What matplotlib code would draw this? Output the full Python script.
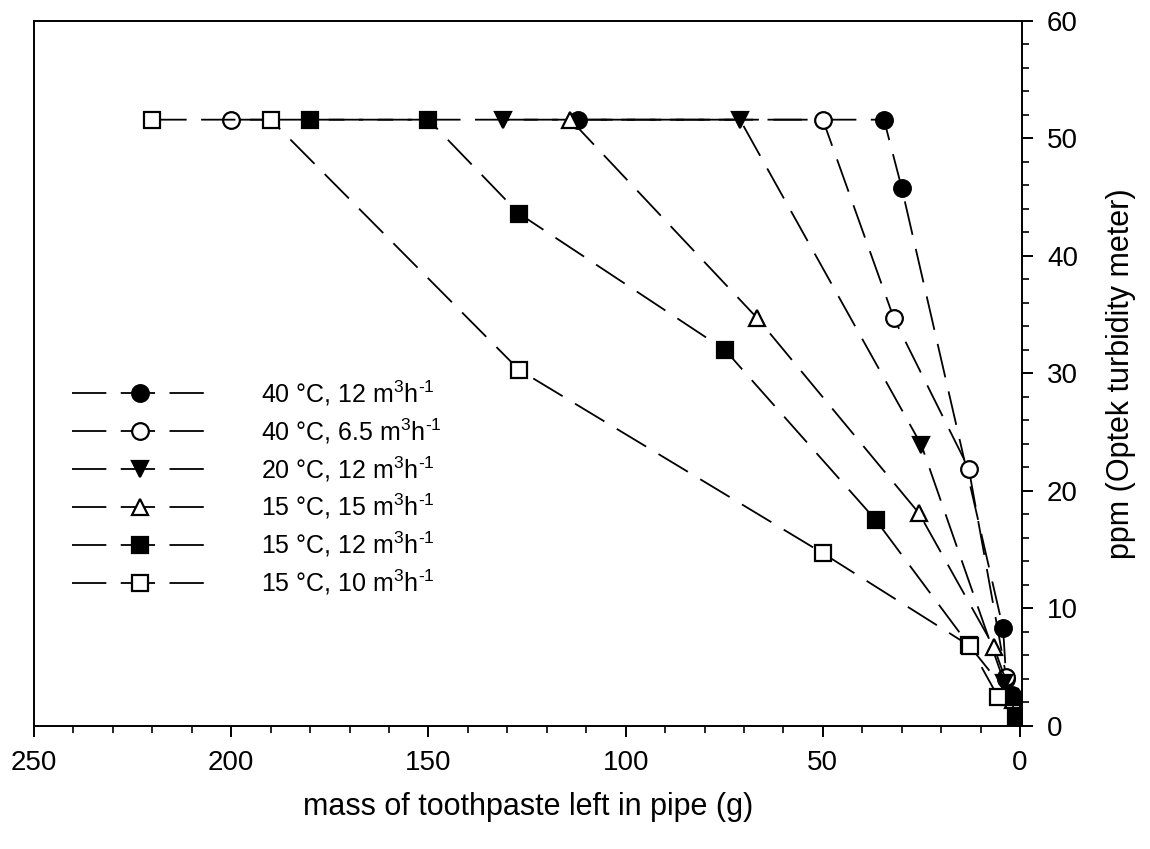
import numpy as np
import matplotlib
matplotlib.use("Agg")
import matplotlib.pyplot as plt
from matplotlib.ticker import MultipleLocator

plt.rcParams['font.family'] = ['Liberation Sans', 'DejaVu Sans']
plt.rcParams['mathtext.fontset'] = 'custom'
plt.rcParams['mathtext.rm'] = 'Liberation Sans'
plt.rcParams['mathtext.default'] = 'regular'

# mass of toothpaste left (g) / ppm for each run
x_40_12 = [112, 34.5, 30, 4.3, 3.5, 2, 0.5]
y_40_12 = [51.6, 51.6, 45.8, 8.3, 4.0, 2.6, 0.8]

x_40_65 = [200, 50, 32, 13, 3.5, 1]
y_40_65 = [51.6, 51.6, 34.7, 21.9, 4.2, 1.0]

x_20_12 = [131, 71, 25, 4, 1.5]
y_20_12 = [51.6, 51.6, 23.9, 3.7, 1.5]

x_15_15 = [114, 66.6, 25.6, 6.6, 1.8]
y_15_15 = [51.6, 34.7, 18.1, 6.7, 2.2]

x_15_12 = [180, 150, 127, 74.8, 36.5, 13, 2.5, 1]
y_15_12 = [51.6, 51.6, 43.6, 32.0, 17.5, 6.9, 2.5, 0.8]

x_15_10 = [220, 190, 127, 50, 12.7, 5.6]
y_15_10 = [51.6, 51.6, 30.3, 14.7, 6.8, 2.5]

labels = [r'40 °C, 12 m$^3$h$^{\text{-}1}$',
          r'40 °C, 6.5 m$^3$h$^{\text{-}1}$',
          r'20 °C, 12 m$^3$h$^{\text{-}1}$',
          r'15 °C, 15 m$^3$h$^{\text{-}1}$',
          r'15 °C, 12 m$^3$h$^{\text{-}1}$',
          r'15 °C, 10 m$^3$h$^{\text{-}1}$']

fig = plt.figure(figsize=(11.5, 8.49), dpi=100)
ax = fig.add_axes([0.0296, 0.1449, 0.8591, 0.8304])

series = [(x_40_12, y_40_12, 'o', 'black'),
          (x_40_65, y_40_65, 'o', 'white'),
          (x_20_12, y_20_12, 'v', 'black'),
          (x_15_15, y_15_15, '^', 'white'),
          (x_15_12, y_15_12, 's', 'black'),
          (x_15_10, y_15_10, 's', 'white')]

for (xs, ys, m, fc), lab in zip(series, labels):
    ms = 12 if m in 'ov^' else 11
    line, = ax.plot(xs, ys, color='black', lw=1.3, marker=m, ms=ms,
                    mfc=fc, mec='black', mew=1.6, label=lab)
    line.set_dashes([19, 8])

ax.set_xlim(250, -0.5)
ax.set_ylim(0, 60)
ax.xaxis.set_major_locator(MultipleLocator(50))
ax.xaxis.set_minor_locator(MultipleLocator(10))
ax.yaxis.set_major_locator(MultipleLocator(10))
ax.yaxis.set_minor_locator(MultipleLocator(2))
ax.yaxis.tick_right()
ax.yaxis.set_label_position('right')
ax.tick_params(which='major', direction='out', length=8, width=1.4, labelsize=20)
ax.tick_params(which='minor', direction='out', length=5, width=1.2)
ax.tick_params(axis='x', pad=9)
ax.tick_params(axis='y', pad=10)
for s in ax.spines.values():
    s.set_linewidth(1.4)

ax.set_xlabel('mass of toothpaste left in pipe (g)', fontsize=22, labelpad=12)
ax.set_ylabel('ppm (Optek turbidity meter)', fontsize=22, labelpad=20)

leg = ax.legend(loc='upper left', bbox_to_anchor=(0.016, 0.525), frameon=False,
                fontsize=18, handlelength=5.4, handletextpad=2.15,
                labelspacing=0.34, numpoints=1)

plt.savefig('out.png', dpi=100)
